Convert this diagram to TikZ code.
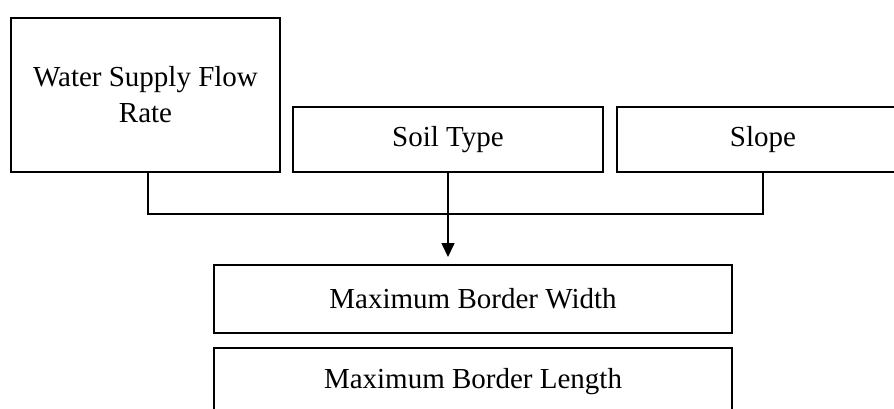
\documentclass[tikz,border=0pt]{standalone}
\usepackage{fontspec}
\setmainfont{Liberation Serif}
\usetikzlibrary{arrows.meta,calc}
\begin{document}
\begin{tikzpicture}[x=1pt,y=-1pt,
  box/.style={draw=black,line width=2pt,inner sep=0pt,anchor=north west,
    font=\fontsize{29}{36}\selectfont,align=center},
  conn/.style={draw=black,line width=1.6pt}]
\useasboundingbox (0,0) rectangle (894,409);
\clip (0,0) rectangle (894,409);
\fill[white] (0,0) rectangle (894,409);
\node[box,minimum width=269pt,minimum height=154pt] (water) at (10,17) {Water Supply Flow\\Rate};
\node[box,minimum width=310pt,minimum height=65pt] (soil) at (292,106) {Soil Type};
\node[box,minimum width=292pt,minimum height=65pt,text width=292pt] (slope) at (616,106) {Slope};
\node[box,minimum width=518pt,minimum height=68pt] (mbw) at (213,264) {Maximum Border Width};
\node[box,minimum width=518pt,minimum height=68pt] (mbl) at (213,347) {Maximum Border Length};
\coordinate (jl) at (148,214);
\coordinate (jr) at (763,214);
\draw[conn] (water.south -| jl) -- (jl) -- (jr) -- (slope.south -| jr);
\draw[conn,-{Triangle[length=14pt,width=13pt]},shorten >=7pt] (soil.south) -- (soil.south |- mbw.north);
\end{tikzpicture}
\end{document}
